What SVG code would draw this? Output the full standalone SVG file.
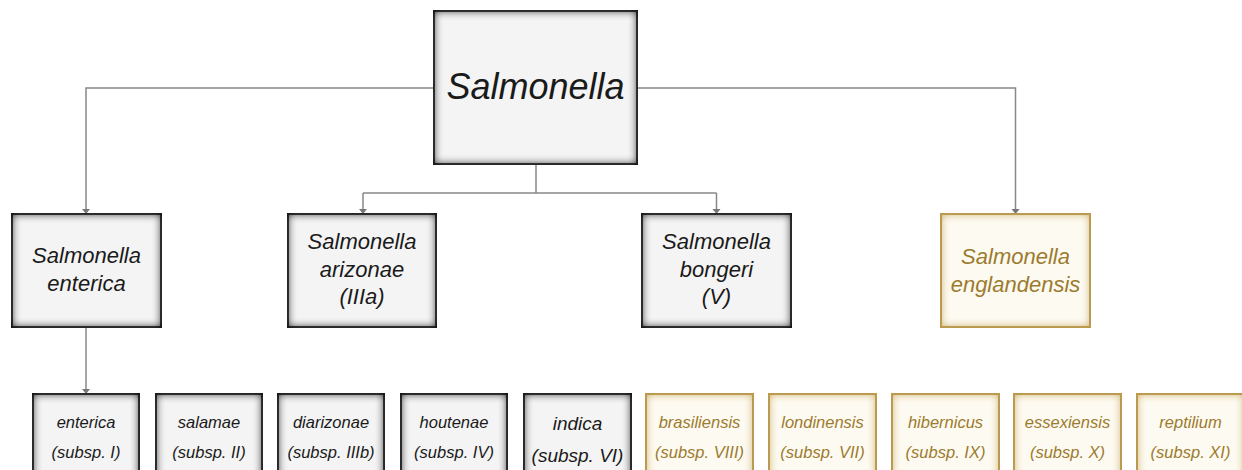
<svg xmlns="http://www.w3.org/2000/svg" width="1242" height="470" viewBox="0 0 1242 470">
<defs>
<filter id="igGray" x="-20%" y="-20%" width="140%" height="140%" color-interpolation-filters="sRGB">
<feFlood flood-color="#000" flood-opacity="1" result="fl"/>
<feComposite in="fl" in2="SourceAlpha" operator="out" result="outside"/>
<feGaussianBlur in="outside" stdDeviation="5" result="bl"/>
<feComposite in="bl" in2="SourceAlpha" operator="in" result="sh"/>
<feMerge><feMergeNode in="SourceGraphic"/><feMergeNode in="sh"/></feMerge>
</filter>
<filter id="igGold" x="-20%" y="-20%" width="140%" height="140%" color-interpolation-filters="sRGB">
<feFlood flood-color="#bf9a45" flood-opacity="1" result="fl"/>
<feComposite in="fl" in2="SourceAlpha" operator="out" result="outside"/>
<feGaussianBlur in="outside" stdDeviation="5" result="bl"/>
<feComposite in="bl" in2="SourceAlpha" operator="in" result="sh"/>
<feMerge><feMergeNode in="SourceGraphic"/><feMergeNode in="sh"/></feMerge>
</filter>
</defs>
<style>
.g rect{fill:#f4f4f4;stroke:#4a4a4a;stroke-width:2}
.y rect{fill:#fdfaf1;stroke:#b89a58;stroke-width:2}
text{font-family:"Liberation Sans",Arial,sans-serif;font-style:italic;text-anchor:middle}
.g text{fill:#1a1a1a}
.y text{fill:#9c7b2e}
.l2{font-size:22px}
.l3{font-size:16.5px}
.c{fill:none;stroke:#888;stroke-width:1.5}
</style>
<g id="connectors">
<path class="c" d="M434,88 H86 V209"/>
<path class="c" d="M637,88 H1015.5 V209"/>
<path class="c" d="M536,164 V193 M363,193 H716.5 M363,193 V209 M716.5,193 V209"/>
<path class="c" d="M86,327 V389"/>
<g fill="#777">
<path d="M82,209 H90 L86,214 Z"/>
<path d="M1011.5,209 H1019.5 L1015.5,214 Z"/>
<path d="M359,209 H367 L363,214 Z"/>
<path d="M712.5,209 H720.5 L716.5,214 Z"/>
<path d="M82,389 H90 L86,394 Z"/>
</g>
</g>
<g id="salmonella" class="g">
<rect x="434" y="11" width="203" height="153" filter="url(#igGray)"/>
<text x="535.5" y="99" style="font-size:36px">Salmonella</text>
</g>
<g id="s-enterica" class="g">
<rect x="12" y="214" width="149" height="113" filter="url(#igGray)"/>
<text class="l2" x="86.5" y="263">Salmonella</text>
<text class="l2" x="86.5" y="291">enterica</text>
</g>
<g id="s-arizonae" class="g">
<rect x="288" y="214" width="148" height="113" filter="url(#igGray)"/>
<text class="l2" x="362" y="249">Salmonella</text>
<text class="l2" x="362" y="277">arizonae</text>
<text class="l2" x="362" y="304">(IIIa)</text>
</g>
<g id="s-bongeri" class="g">
<rect x="642" y="214" width="149" height="113" filter="url(#igGray)"/>
<text class="l2" x="716.5" y="249">Salmonella</text>
<text class="l2" x="716.5" y="277">bongeri</text>
<text class="l2" x="716.5" y="304">(V)</text>
</g>
<g id="s-englandensis" class="y">
<rect x="941" y="214" width="149" height="113" filter="url(#igGold)"/>
<text class="l2" x="1015.5" y="264">Salmonella</text>
<text class="l2" x="1015.5" y="292">englandensis</text>
</g>
<g id="ss-enterica" class="g">
<rect x="33" y="394" width="106" height="90" filter="url(#igGray)"/>
<text class="l3" x="86" y="428">enterica</text>
<text class="l3" x="86" y="458">(subsp. I)</text>
</g>
<g id="ss-salamae" class="g">
<rect x="156" y="394" width="106" height="90" filter="url(#igGray)"/>
<text class="l3" x="209" y="428">salamae</text>
<text class="l3" x="209" y="458">(subsp. II)</text>
</g>
<g id="ss-diarizonae" class="g">
<rect x="278" y="394" width="106" height="90" filter="url(#igGray)"/>
<text class="l3" x="331" y="428">diarizonae</text>
<text class="l3" x="331" y="458">(subsp. IIIb)</text>
</g>
<g id="ss-houtenae" class="g">
<rect x="401" y="394" width="106" height="90" filter="url(#igGray)"/>
<text class="l3" x="454" y="428">houtenae</text>
<text class="l3" x="454" y="458">(subsp. IV)</text>
</g>
<g id="ss-indica" class="g">
<rect x="524" y="394" width="107" height="90" filter="url(#igGray)"/>
<text x="577.5" y="430" style="font-size:19px">indica</text>
<text x="577.5" y="462" style="font-size:19px">(subsp. VI)</text>
</g>
<g id="ss-brasiliensis" class="y">
<rect x="646" y="394" width="107" height="90" filter="url(#igGold)"/>
<text class="l3" x="699.5" y="428">brasiliensis</text>
<text class="l3" x="699.5" y="458">(subsp. VIII)</text>
</g>
<g id="ss-londinensis" class="y">
<rect x="769" y="394" width="107" height="90" filter="url(#igGold)"/>
<text class="l3" x="822.5" y="428">londinensis</text>
<text class="l3" x="822.5" y="458">(subsp. VII)</text>
</g>
<g id="ss-hibernicus" class="y">
<rect x="892" y="394" width="107" height="90" filter="url(#igGold)"/>
<text class="l3" x="945.5" y="428">hibernicus</text>
<text class="l3" x="945.5" y="458">(subsp. IX)</text>
</g>
<g id="ss-essexiensis" class="y">
<rect x="1014" y="394" width="107" height="90" filter="url(#igGold)"/>
<text class="l3" x="1067.5" y="428">essexiensis</text>
<text class="l3" x="1067.5" y="458">(subsp. X)</text>
</g>
<g id="ss-reptilium" class="y">
<rect x="1137" y="394" width="107" height="90" filter="url(#igGold)"/>
<text class="l3" x="1190.5" y="428">reptilium</text>
<text class="l3" x="1190.5" y="458">(subsp. XI)</text>
</g>
</svg>
